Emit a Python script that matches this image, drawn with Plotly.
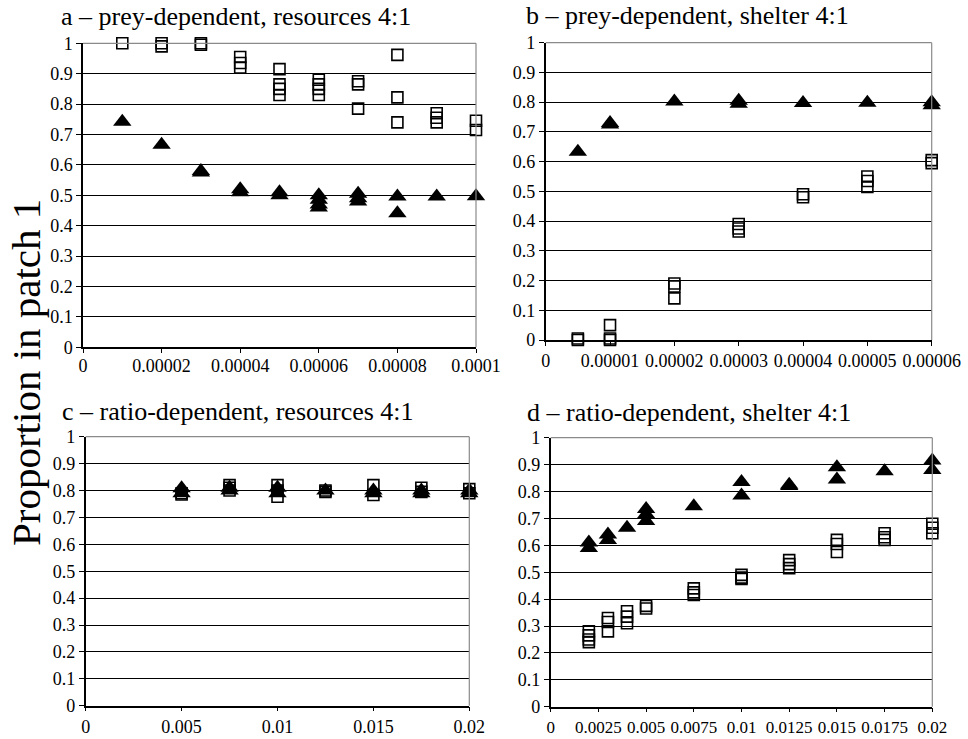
import plotly.graph_objects as go

# ---------------- data ----------------
# Panel a: prey-dependent, resources 4:1
a_x = [0.00001, 0.00002, 0.00003, 0.00004, 0.00005, 0.00006, 0.00007, 0.00008, 0.00009, 0.0001]
a_squares = [[1.0], [1.0, 0.99], [1.0, 0.995], [0.955, 0.935, 0.92], [0.915, 0.865, 0.85, 0.83],
             [0.88, 0.865, 0.85, 0.83], [0.875, 0.865, 0.785], [0.962, 0.822, 0.74],
             [0.77, 0.755, 0.74], [0.745, 0.715]]
a_triangles = [[0.742], [0.666], [0.58, 0.575], [0.52, 0.51], [0.51, 0.5],
               [0.5, 0.485, 0.47, 0.46], [0.505, 0.49, 0.48], [0.496, 0.441], [0.496], [0.497]]

# Panel b: prey-dependent, shelter 4:1
b_x = [0.000005, 0.00001, 0.00002, 0.00003, 0.00004, 0.00005, 0.00006]
b_squares = [[0.005, 0.0], [0.05, 0.005, 0.0], [0.19, 0.18, 0.14], [0.39, 0.375, 0.365],
             [0.49, 0.48], [0.55, 0.535, 0.515], [0.605, 0.595]]
b_triangles = [[0.633], [0.73, 0.725], [0.802], [0.805, 0.795], [0.797], [0.798], [0.8, 0.79]]

# Panel c: ratio-dependent, resources 4:1
c_x = [0.005, 0.0075, 0.01, 0.0125, 0.015, 0.0175, 0.02]
c_squares = [[0.79, 0.785], [0.82, 0.81, 0.8], [0.82, 0.8, 0.777], [0.8, 0.795],
             [0.82, 0.783], [0.81, 0.795], [0.805, 0.79]]
c_triangles = [[0.808, 0.79], [0.81, 0.8], [0.81, 0.79], [0.8], [0.8, 0.79], [0.8, 0.79], [0.8, 0.79]]

# Panel d: ratio-dependent, shelter 4:1
d_x = [0.002, 0.003, 0.004, 0.005, 0.0075, 0.01, 0.0125, 0.015, 0.0175, 0.02]
d_squares = [[0.28, 0.265, 0.25, 0.24], [0.33, 0.315, 0.28], [0.355, 0.335, 0.31], [0.375, 0.365],
             [0.44, 0.425, 0.415], [0.49, 0.48, 0.475], [0.545, 0.53, 0.515],
             [0.62, 0.605, 0.575], [0.645, 0.63, 0.62], [0.68, 0.665, 0.645]]
d_triangles = [[0.61, 0.59], [0.64, 0.62], [0.665], [0.735, 0.715, 0.69], [0.745],
               [0.835, 0.785], [0.825, 0.82], [0.89, 0.845], [0.875], [0.915, 0.88]]

titles = ["a \u2013 prey-dependent, resources 4:1", "b \u2013 prey-dependent, shelter 4:1",
          "c \u2013 ratio-dependent, resources 4:1", "d \u2013 ratio-dependent, shelter 4:1"]

a_xticks = [0, 0.00002, 0.00004, 0.00006, 0.00008, 0.0001]
a_xlabels = ["0", "0.00002", "0.00004", "0.00006", "0.00008", "0.0001"]
b_xticks = [0, 0.00001, 0.00002, 0.00003, 0.00004, 0.00005, 0.00006]
b_xlabels = ["0", "0.00001", "0.00002", "0.00003", "0.00004", "0.00005", "0.00006"]
c_xticks = [0, 0.005, 0.01, 0.015, 0.02]
c_xlabels = ["0", "0.005", "0.01", "0.015", "0.02"]
d_xticks = [0, 0.0025, 0.005, 0.0075, 0.01, 0.0125, 0.015, 0.0175, 0.02]
d_xlabels = ["0", "0.0025", "0.005", "0.0075", "0.01", "0.0125", "0.015", "0.0175", "0.02"]
y_ticks = [0, 0.1, 0.2, 0.3, 0.4, 0.5, 0.6, 0.7, 0.8, 0.9, 1]
y_labels = ["0", "0.1", "0.2", "0.3", "0.4", "0.5", "0.6", "0.7", "0.8", "0.9", "1"]
y_title = "Proportion in patch 1"

# ---------------- layout geometry ----------------
W, H = 968, 739
FONT = "Liberation Serif"

def px_dom_x(a, b):
    return [a / W, b / W]

def px_dom_y(top, bottom):
    return [1 - bottom / H, 1 - top / H]

panels = [
    dict(x=a_x, sq=a_squares, tri=a_triangles, xmax=0.0001, xt=a_xticks, xl=a_xlabels,
         dx=px_dom_x(83, 476), dy=px_dom_y(43.3, 347.3), tx=59, ty=16, so=-3, fs=18),
    dict(x=b_x, sq=b_squares, tri=b_triangles, xmax=0.00006, xt=b_xticks, xl=b_xlabels,
         dx=px_dom_x(545.7, 931.7), dy=px_dom_y(42.7, 340), tx=524, ty=15, so=0, fs=18),
    dict(x=c_x, sq=c_squares, tri=c_triangles, xmax=0.02, xt=c_xticks, xl=c_xlabels,
         dx=px_dom_x(85.7, 469.3), dy=px_dom_y(436.7, 705.7), tx=60, ty=411, so=0, fs=18),
    dict(x=d_x, sq=d_squares, tri=d_triangles, xmax=0.02, xt=d_xticks, xl=d_xlabels,
         dx=px_dom_x(550.7, 932.3), dy=px_dom_y(437.7, 706.7), tx=525, ty=412, so=0, fs=17),
]

fig = go.Figure()
annotations = []
shapes = []

for i, p in enumerate(panels):
    n = "" if i == 0 else str(i + 1)
    xs_sq, ys_sq, xs_tr, ys_tr = [], [], [], []
    for xv, vals in zip(p["x"], p["sq"]):
        for v in vals:
            xs_sq.append(xv); ys_sq.append(v)
    for xv, vals in zip(p["x"], p["tri"]):
        for v in vals:
            xs_tr.append(xv); ys_tr.append(v)
    fig.add_trace(go.Scatter(x=xs_sq, y=ys_sq, mode="markers", xaxis="x" + n, yaxis="y" + n,
                             marker=dict(symbol="square-open", size=11, color="black",
                                         line=dict(width=1.6, color="black")),
                             showlegend=False, cliponaxis=False))
    fig.add_trace(go.Scatter(x=xs_tr, y=ys_tr, mode="markers", xaxis="x" + n, yaxis="y" + n,
                             marker=dict(symbol="triangle-up", size=16, color="black",
                                         line=dict(width=0)),
                             showlegend=False, cliponaxis=False))
    xa = dict(domain=p["dx"], anchor="y" + n, range=[0, p["xmax"]], tickmode="array",
              tickvals=p["xt"], ticktext=p["xl"], showgrid=False, zeroline=False,
              showline=True, linecolor="black", linewidth=1.5, ticks="outside",
              ticklen=4, tickcolor="black", tickwidth=1.2, ticklabelstandoff=p["so"],
              tickangle=0, automargin=False,
              tickfont=dict(family=FONT, size=p["fs"], color="black"))
    ya = dict(domain=p["dy"], anchor="x" + n, range=[0, 1], tickmode="array",
              tickvals=y_ticks, ticktext=y_labels, showgrid=True, gridcolor="black",
              gridwidth=1.2, zeroline=False, showline=True, linecolor="black", linewidth=1.5,
              ticks="outside", ticklen=5, tickcolor="black", tickwidth=1.2, automargin=False,
              tickfont=dict(family=FONT, size=18, color="black"))
    fig.update_layout(**{"xaxis" + n: xa, "yaxis" + n: ya})
    # gray top / right border of plot area
    shapes.append(dict(type="line", xref="x" + n + " domain", yref="y" + n + " domain",
                       x0=0, x1=1, y0=1, y1=1, line=dict(color="#8a8a8a", width=1.2), layer="above"))
    shapes.append(dict(type="line", xref="x" + n + " domain", yref="y" + n + " domain",
                       x0=1, x1=1, y0=0, y1=1, line=dict(color="#8a8a8a", width=1.2), layer="above"))
    annotations.append(dict(text=titles[i], xref="paper", yref="paper", x=p["tx"] / W,
                            y=1 - p["ty"] / H, xanchor="left", yanchor="middle", showarrow=False,
                            font=dict(family=FONT, size=26, color="black")))

annotations.append(dict(text=y_title, xref="paper", yref="paper", x=26 / W, y=1 - 373 / H,
                        xanchor="center", yanchor="middle", textangle=-90, showarrow=False,
                        font=dict(family=FONT, size=41, color="black")))

fig.update_layout(width=W, height=H, margin=dict(l=0, r=0, t=0, b=0),
                  paper_bgcolor="white", plot_bgcolor="white",
                  font=dict(family=FONT, color="black"),
                  annotations=annotations, shapes=shapes, showlegend=False)

fig.write_html("out.html")
